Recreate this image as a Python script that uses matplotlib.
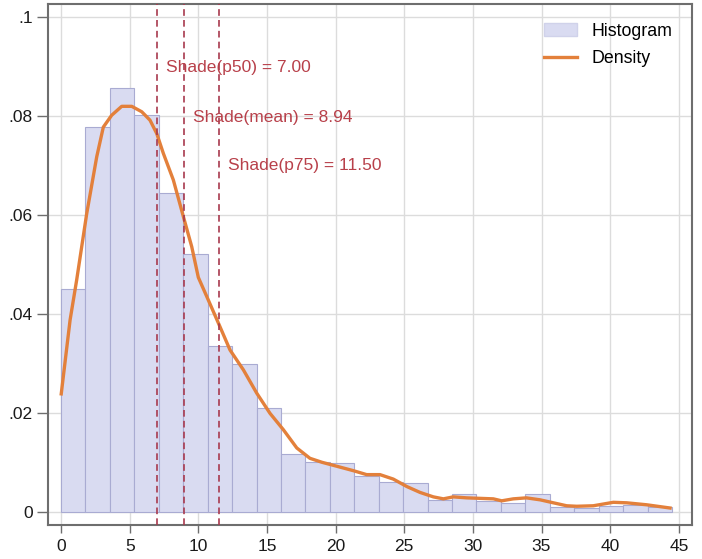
import matplotlib
matplotlib.use("Agg")
import matplotlib.pyplot as plt
import numpy as np
from matplotlib.patches import Patch
from matplotlib.lines import Line2D

plt.rcParams['font.family'] = ['Liberation Sans', 'DejaVu Sans']

# Histogram: 25 bins from 0 to 44.5
bin_start = 0.0
bin_end = 44.5
n_bins = 25
hist_heights = [0.0450, 0.0778, 0.0858, 0.0803, 0.0644, 0.0521, 0.0335, 0.0298,
                0.0210, 0.0117, 0.0100, 0.0098, 0.0073, 0.0061, 0.0059, 0.0023,
                0.0035, 0.0021, 0.0017, 0.0035, 0.0009, 0.0008, 0.0012, 0.0014,
                0.0010]

# Density curve points
dens_x = [0.0, 0.66, 1.14, 1.87, 2.6, 3.08, 3.69, 4.42, 5.15, 5.88, 6.48, 6.97,
          7.45, 8.18, 8.91, 9.52, 10.0, 10.73, 11.58, 12.31, 13.28, 14.25, 15.22,
          16.19, 17.17, 18.13, 19.0, 20.08, 21.29, 22.26, 23.23, 24.2, 25.18,
          26.15, 27.12, 27.85, 28.57, 29.55, 30.52, 31.49, 32.1, 32.94, 33.9,
          34.9, 35.86, 36.83, 37.56, 38.77, 40.23, 41.2, 42.66, 44.48]
dens_y = [0.0235, 0.0388, 0.0469, 0.0603, 0.0718, 0.0778, 0.0802, 0.0820, 0.0820,
          0.0809, 0.0792, 0.0765, 0.0725, 0.0671, 0.0597, 0.0536, 0.0474, 0.0428,
          0.0374, 0.0327, 0.0287, 0.0240, 0.0199, 0.0166, 0.0129, 0.0108, 0.0100,
          0.0092, 0.0083, 0.0075, 0.0075, 0.0066, 0.0051, 0.0039, 0.0030, 0.0026,
          0.0030, 0.0028, 0.0027, 0.0026, 0.0022, 0.0026, 0.0028, 0.0024, 0.0018,
          0.0012, 0.0011, 0.0012, 0.0019, 0.0018, 0.0014, 0.0007]

stat_names = ["p50", "mean", "p75"]
stat_values = [7.00, 8.94, 11.50]
label_y = [0.0899, 0.0797, 0.0700]

x_ticks = [0, 5, 10, 15, 20, 25, 30, 35, 40, 45]
y_ticks = [0, 0.02, 0.04, 0.06, 0.08, 0.1]
y_tick_labels = ["0", ".02", ".04", ".06", ".08", ".1"]

fig = plt.figure(figsize=(7.02, 5.59), dpi=100)
ax = fig.add_axes([48/702, 1-525/559, (692-48)/702, (525-4)/559])

edges = np.linspace(bin_start, bin_end, n_bins + 1)
widths = np.diff(edges)
ax.bar(edges[:-1], hist_heights, width=widths, align='edge', color='#d9dbf1',
       edgecolor='#a9abd2', linewidth=0.8, zorder=2)

ax.plot(dens_x, dens_y, color='#e3803b', linewidth=2.4, zorder=4,
        solid_capstyle='butt', solid_joinstyle='round')

for name, v, ly in zip(stat_names, stat_values, label_y):
    ax.axvline(v, color='#a83a4e', linestyle=(0, (4, 2.5)), linewidth=1.2, zorder=5)
    ax.annotate(f"Shade({name}) = {v:.2f}", xy=(v, ly), xytext=(9, 0),
                textcoords='offset pixels', color='#b8404a', fontsize=12.5,
                va='center', ha='left', zorder=6)

ax.set_xlim(-0.95, 45.96)
ax.set_ylim(-0.00269, 0.1027)
ax.set_xticks(x_ticks)
ax.set_yticks(y_ticks)
ax.set_yticklabels(y_tick_labels)
ax.grid(True, color='#dcdcdc', linewidth=1.0, zorder=0)
ax.set_axisbelow(True)
for s in ax.spines.values():
    s.set_color('#6e6e6e')
    s.set_linewidth(1.5)
ax.tick_params(axis='both', direction='out', width=1.0, color='#6e6e6e',
               labelsize=12.5, labelcolor='#1a1a1a')
ax.tick_params(axis='x', length=6, pad=4)
ax.tick_params(axis='y', length=8, pad=3)

handles = [Patch(facecolor='#d9dbf1', edgecolor='#d0d2ea', label='Histogram'),
           Line2D([0], [0], color='#e3803b', linewidth=2.4, label='Density')]
ax.legend(handles=handles, loc='upper right', frameon=False, fontsize=12.8,
          bbox_to_anchor=(0.989, 0.988), handlelength=1.85, handleheight=0.75,
          handletextpad=0.8, labelspacing=0.6, borderaxespad=0.3)

fig.savefig("out.png", dpi=100)
